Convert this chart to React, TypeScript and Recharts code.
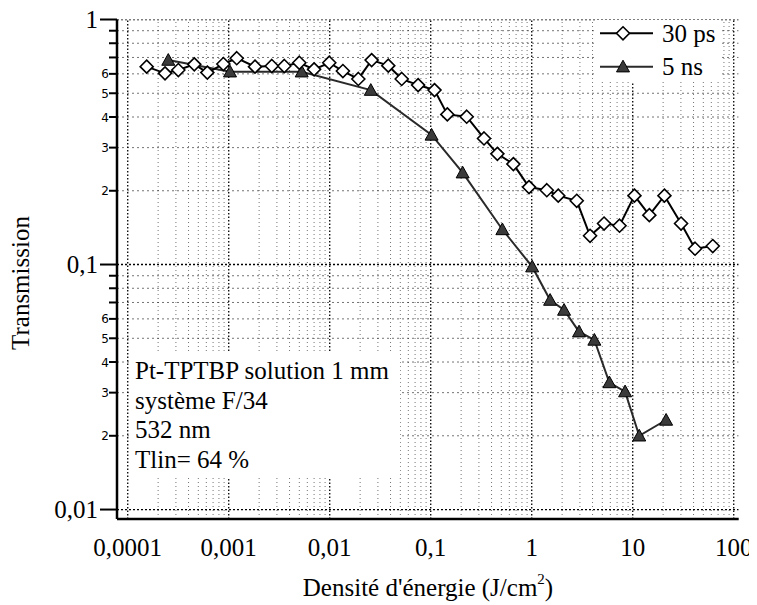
import { LineChart, Line, XAxis, YAxis, ReferenceLine } from 'recharts';

// 30 ps series (diamonds)
const PS30_X = [
  1.54e-4, 2.34e-4, 3.17e-4, 4.56e-4, 6.14e-4, 8.85e-4, 1.2e-3, 1.82e-3, 2.67e-3, 3.55e-3,
  5.0e-3, 7.0e-3, 9.9e-3, 1.35e-2, 1.92e-2, 2.6e-2, 3.8e-2, 5.16e-2, 7.5e-2, 0.109,
  0.146, 0.227, 0.337, 0.457, 0.658, 0.94, 1.41, 1.83, 2.79, 3.78,
  5.2, 7.4, 10.4, 14.6, 20.6, 30.1, 41.4, 62,
];
const PS30_Y = [
  0.642, 0.603, 0.622, 0.656, 0.607, 0.658, 0.695, 0.642, 0.646, 0.646,
  0.666, 0.626, 0.666, 0.616, 0.572, 0.683, 0.648, 0.572, 0.54, 0.515,
  0.41, 0.401, 0.327, 0.283, 0.257, 0.207, 0.201, 0.191, 0.182, 0.131,
  0.147, 0.144, 0.191, 0.159, 0.191, 0.147, 0.116, 0.119,
];

// 5 ns series (triangles)
const NS5_X = [2.52e-4, 1.03e-3, 5.28e-3, 2.55e-2, 0.102, 0.207, 0.512, 1.01, 1.52, 2.09, 2.94, 4.17, 5.87, 8.4, 11.6, 21.4];
const NS5_Y = [0.683, 0.612, 0.612, 0.515, 0.338, 0.237, 0.139, 0.098, 0.0716, 0.0652, 0.0532, 0.0492, 0.033, 0.0303, 0.02, 0.0232];

const X_TICKS = [0.0001, 0.001, 0.01, 0.1, 1, 10, 100];
const X_TICK_LABELS = ['0,0001', '0,001', '0,01', '0,1', '1', '10', '100'];

const Y_TICKS = [
  0.01, 0.02, 0.03, 0.04, 0.05, 0.06, 0.07, 0.08, 0.09,
  0.1, 0.2, 0.3, 0.4, 0.5, 0.6, 0.7, 0.8, 0.9, 1,
];
const Y_TICK_LABELS = [
  '0,01', '2', '3', '4', '5', '6', '', '', '',
  '0,1', '2', '3', '4', '5', '6', '', '', '', '1',
];
const Y_MAJOR = [0.01, 0.1, 1];

const NOTE_LINES = ['Pt-TPTBP solution 1 mm', 'système F/34', '532 nm', 'Tlin= 64 %'];

const W = 749;
const H = 597;
const PLOT_LEFT = 109;
const PLOT_BOTTOM = 511;
const XMIN = 7.83e-5;
const XMAX = 112;
const YMIN = 0.00915;
const SERIF = '"Liberation Serif", "Times New Roman", serif';
const SANS = '"DejaVu Sans", Verdana, sans-serif';

const ps30 = PS30_X.map((x, i) => ({ x, y: PS30_Y[i] }));
const ns5 = NS5_X.map((x, i) => ({ x, y: NS5_Y[i] }));

// log grid: every 1..9 of each decade
const decadesX = [0.0001, 0.001, 0.01, 0.1, 1, 10];
const gridXMinor = decadesX.flatMap((d) => [2, 3, 4, 5, 6, 7, 8, 9].map((k) => d * k));
const decadesY = [0.01, 0.1];
const gridYMinor = decadesY.flatMap((d) => [2, 3, 4, 5, 6, 7, 8, 9].map((k) => d * k));

function XTick(props: any) {
  const { x, index } = props;
  return (
    <text x={x} y={PLOT_BOTTOM + 37} textAnchor="middle" fontFamily={SERIF} fontSize={25} fill="#000">
      {X_TICK_LABELS[index]}
    </text>
  );
}

function YTick(props: any) {
  const { y, index, payload } = props;
  const major = Y_MAJOR.includes(payload.value);
  const label = Y_TICK_LABELS[index];
  if (major) {
    return (
      <g>
        <line x1={PLOT_LEFT - 17} x2={PLOT_LEFT} y1={y} y2={y} stroke="#000" strokeWidth={2} />
        <text x={PLOT_LEFT - 19} y={y + 8.5} textAnchor="end" fontFamily={SERIF} fontSize={25} fill="#000">
          {label}
        </text>
      </g>
    );
  }
  return (
    <g>
      <line x1={PLOT_LEFT - 8} x2={PLOT_LEFT} y1={y} y2={y} stroke="#000" strokeWidth={2} />
      {label && (
        <text x={PLOT_LEFT - 8} y={y + 4.5} textAnchor="end" fontFamily={SANS} fontSize={12} fill="#000">
          {label}
        </text>
      )}
    </g>
  );
}

function Diamond({ cx, cy }: { cx: number; cy: number }) {
  const r = 6.5;
  return (
    <polygon
      points={`${cx},${cy - r} ${cx + r},${cy} ${cx},${cy + r} ${cx - r},${cy}`}
      fill="#fff"
      stroke="#000"
      strokeWidth={1.6}
    />
  );
}

function Triangle({ cx, cy }: { cx: number; cy: number }) {
  const s = 6.5;
  return (
    <polygon
      points={`${cx},${cy - s} ${cx + s},${cy + s * 0.8} ${cx - s},${cy + s * 0.8}`}
      fill="#3a3a3a"
      stroke="#000"
      strokeWidth={1}
    />
  );
}

function XTitle() {
  return (
    <text x={420} y={588} textAnchor="middle" fontFamily={SERIF} fontSize={25} fill="#000">
      Densité d'énergie (J/cm<tspan fontSize={15} dy={-12}>2</tspan>
      <tspan dy={12}>)</tspan>
    </text>
  );
}

function YTitle() {
  return (
    <text
      x={0}
      y={0}
      transform="translate(21, 275) rotate(-90)"
      textAnchor="middle"
      fontFamily={SERIF}
      fontSize={25}
      fill="#000"
    >
      Transmission
    </text>
  );
}

export default function App() {
  return (
    <div style={{ position: 'relative', width: W, height: H }}>
      <LineChart width={W} height={H} margin={{ top: 11.5, right: 18.3, left: 49, bottom: 36 }}>
        {gridXMinor.map((v) => (
          <ReferenceLine key={`gx-${v}`} x={v} stroke="#000" strokeOpacity={0.55} strokeDasharray="1 3" ifOverflow="hidden" />
        ))}
        {gridYMinor.map((v) => (
          <ReferenceLine key={`gy-${v}`} y={v} stroke="#000" strokeOpacity={0.55} strokeDasharray="2 3" ifOverflow="hidden" />
        ))}
        {X_TICKS.map((v) => (
          <ReferenceLine key={`mx-${v}`} x={v} stroke="#000" strokeWidth={1.3} strokeDasharray="1.5 2" ifOverflow="hidden" />
        ))}
        {Y_MAJOR.map((v) => (
          <ReferenceLine key={`my-${v}`} y={v} stroke="#000" strokeWidth={1.3} strokeDasharray="2 2" ifOverflow="hidden" />
        ))}
        <XAxis
          dataKey="x"
          type="number"
          scale="log"
          domain={[XMIN, XMAX]}
          allowDataOverflow
          ticks={X_TICKS}
          interval={0}
          tick={<XTick />}
          tickLine={false}
          axisLine={{ stroke: '#000', strokeWidth: 2.5 }}
          height={50}
          label={<XTitle />}
        />
        <YAxis
          dataKey="y"
          type="number"
          scale="log"
          domain={[YMIN, 1]}
          allowDataOverflow
          ticks={Y_TICKS}
          interval={0}
          tick={<YTick />}
          tickLine={false}
          axisLine={{ stroke: '#000', strokeWidth: 2.5 }}
          width={60}
          label={<YTitle />}
        />
        <Line
          data={ns5}
          dataKey="y"
          type="linear"
          stroke="#2a2a2a"
          strokeWidth={2}
          isAnimationActive={false}
          activeDot={false}
          dot={(p: any) => <Triangle key={`t-${p.index}`} cx={p.cx} cy={p.cy} />}
        />
        <Line
          data={ps30}
          dataKey="y"
          type="linear"
          stroke="#000"
          strokeWidth={2}
          isAnimationActive={false}
          activeDot={false}
          dot={(p: any) => <Diamond key={`d-${p.index}`} cx={p.cx} cy={p.cy} />}
        />
      </LineChart>
      <svg width={W} height={H} style={{ position: 'absolute', left: 0, top: 0, pointerEvents: 'none' }}>
        <rect x={122} y={344} width={270} height={126} fill="#fff" />
        {NOTE_LINES.map((t, i) => (
          <text key={t} x={127} y={371 + i * 29.5} fontFamily={SERIF} fontSize={25} fill="#000">
            {t}
          </text>
        ))}
        <rect x={587} y={12} width={124} height={62} fill="#fff" />
        <line x1={592} x2={645} y1={25.3} y2={25.3} stroke="#000" strokeWidth={2} />
        <Diamond cx={615} cy={25.3} />
        <text x={654} y={33.5} fontFamily={SERIF} fontSize={25} fill="#000">30 ps</text>
        <line x1={592} x2={645} y1={58.7} y2={58.7} stroke="#2a2a2a" strokeWidth={2} />
        <Triangle cx={615} cy={58.7} />
        <text x={654} y={67} fontFamily={SERIF} fontSize={25} fill="#000">5 ns</text>
      </svg>
    </div>
  );
}
